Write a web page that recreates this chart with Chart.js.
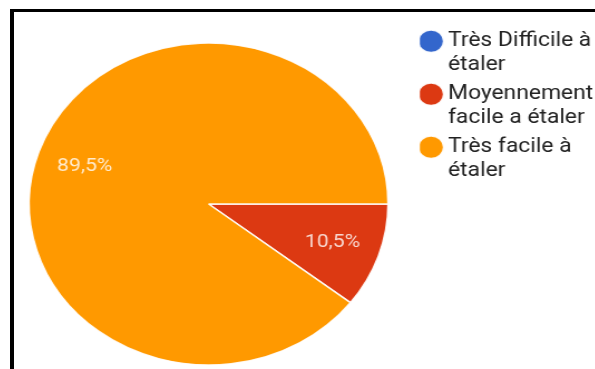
<!DOCTYPE html>
<html>
<head>
<meta charset="utf-8">
<script src="https://cdn.jsdelivr.net/npm/chart.js@4/dist/chart.umd.min.js"></script>
<style>
  html, body { margin: 0; padding: 0; background: #fff; }
  #wrap { position: relative; width: 595px; height: 369px; overflow: hidden; background: #fff; }
  #c { position: absolute; left: -6.4px; top: 0; transform: scaleX(1.1142); transform-origin: 0 0; }
  #frame { position: absolute; left: 10px; top: 9px; width: 600px; height: 400px;
           border-top: 3px solid #000; border-left: 4px solid #000; pointer-events: none; }
</style>
</head>
<body>
<div id="wrap">
  <canvas id="c" width="546" height="382"></canvas>
  <div id="frame"></div>
</div>
<script>
// Categories (legend labels, already split as in the reference)
const categories = [
  ['Très Difficile à', 'étaler'],
  ['Moyennement', 'facile a étaler'],
  ['Très facile à', 'étaler']
];
// Share of answers, in percent
const percentages = [0, 10.5, 89.5];
// Text shown on the slices
const sliceLabels = ['', '10,5%', '89,5%'];
const colors = ['#3366CC', '#DC3912', '#FF9900'];

const sliceLabelPlugin = {
  id: 'sliceLabels',
  afterDatasetsDraw(chart, args, opts) {
    const ctx = chart.ctx;
    const meta = chart.getDatasetMeta(0);
    ctx.save();
    ctx.font = opts.font;
    ctx.fillStyle = opts.color;
    ctx.textAlign = 'center';
    ctx.textBaseline = 'middle';
    meta.data.forEach((arc, i) => {
      const txt = sliceLabels[i];
      if (!txt) return;
      const p = arc.getProps(['x', 'y', 'startAngle', 'endAngle', 'outerRadius'], true);
      const mid = (p.startAngle + p.endAngle) / 2;
      const r = p.outerRadius * opts.radiusFraction;
      ctx.fillText(txt, p.x + Math.cos(mid) * r, p.y + Math.sin(mid) * r);
    });
    ctx.restore();
  }
};

new Chart(document.getElementById('c'), {
  type: 'pie',
  data: {
    labels: categories,
    datasets: [{
      data: percentages,
      backgroundColor: colors,
      borderColor: 'rgba(255,255,255,0.9)',
      borderWidth: 1.5
    }]
  },
  options: {
    responsive: false,
    devicePixelRatio: 1,
    animation: false,
    rotation: 90,
    radius: 161,
    layout: { padding: { top: 26, left: 3, right: 0, bottom: 0 } },
    plugins: {
      tooltip: { enabled: false },
      legend: {
        position: 'right',
        align: 'start',
        labels: {
          usePointStyle: true,
          pointStyle: 'circle',
          boxWidth: 10,
          boxHeight: 16,
          padding: 5,
          color: '#222',
          font: { family: 'Roboto', size: 20.5, lineHeight: 1.17 }
        }
      },
      sliceLabels: {
        font: '19px Roboto',
        color: 'rgba(255,255,255,0.8)',
        radiusFraction: 0.73
      }
    }
  },
  plugins: [sliceLabelPlugin]
});
</script>
</body>
</html>
